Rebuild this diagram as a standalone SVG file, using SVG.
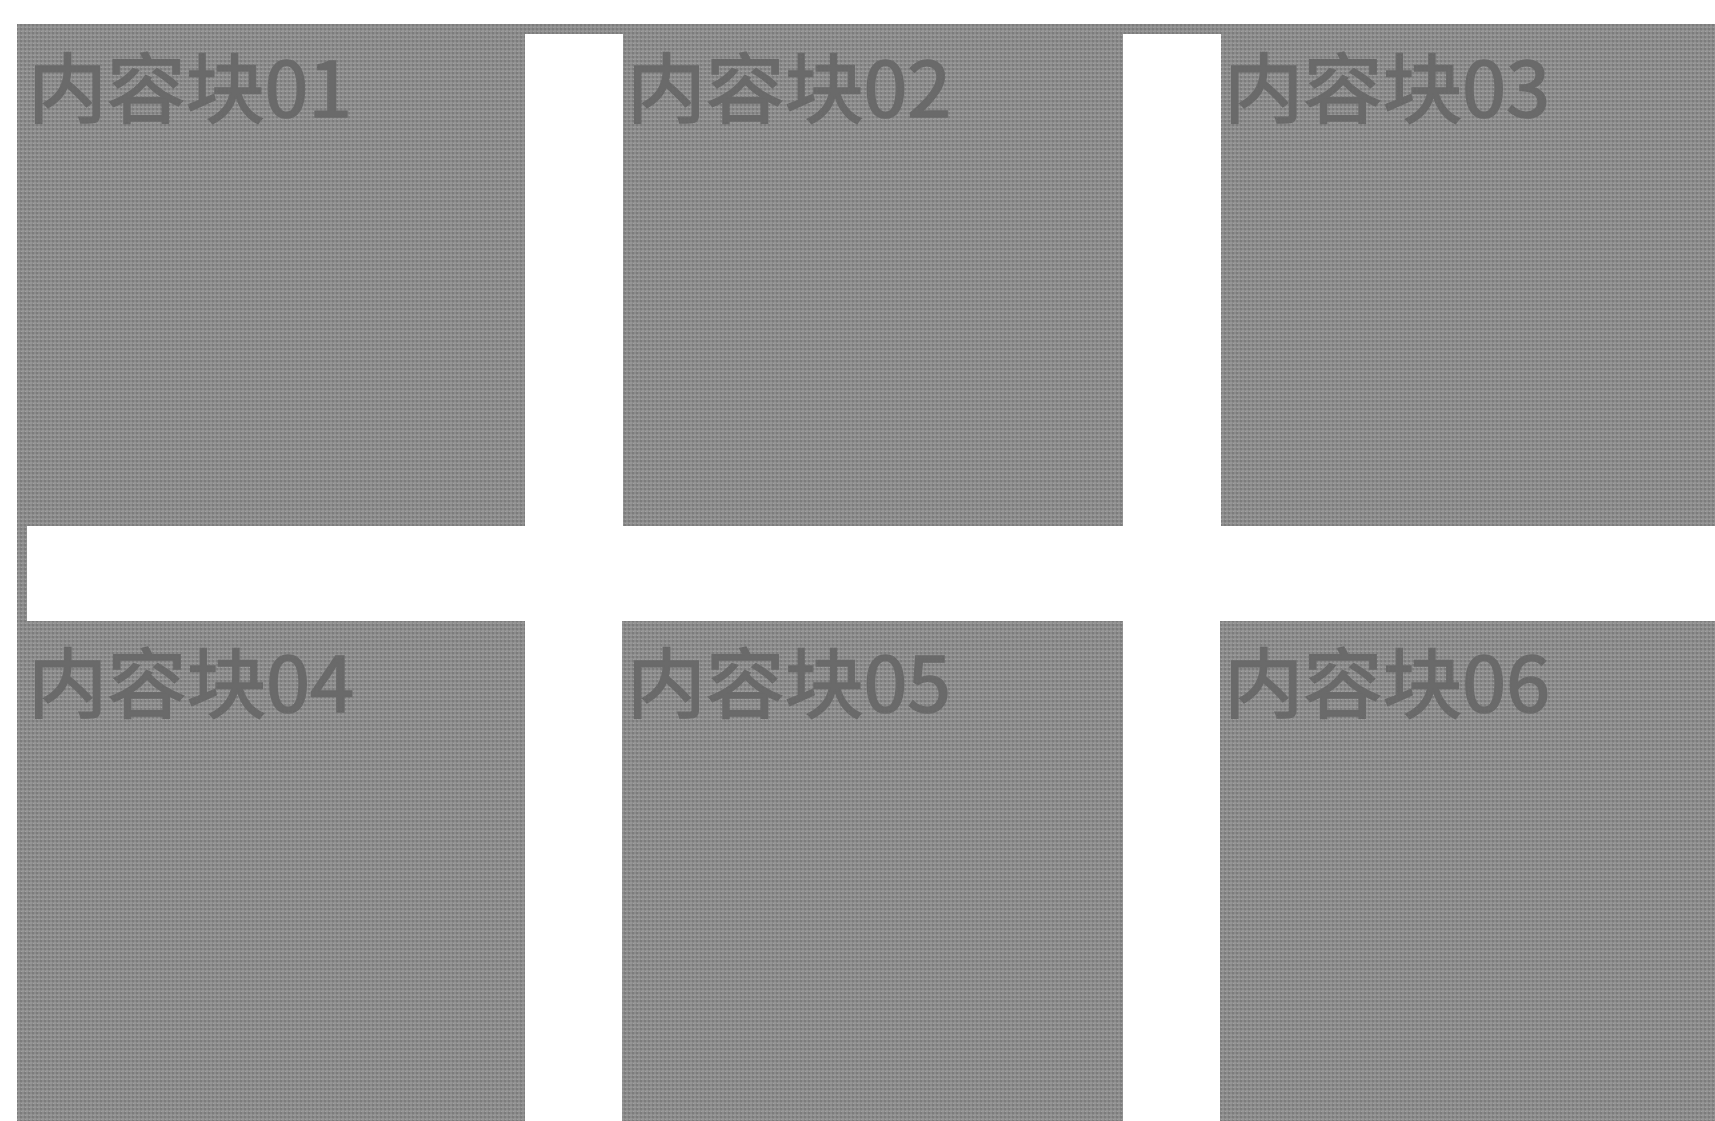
<svg xmlns="http://www.w3.org/2000/svg" width="1715" height="1121" viewBox="0 0 1715 1121">
  <defs>
    <pattern id="tex" width="4" height="4" patternUnits="userSpaceOnUse">
      <rect width="4" height="4" fill="#8b8b8b"/>
      <rect x="0" y="0" width="2" height="2" fill="#7c7c7c"/>
      <rect x="2" y="2" width="2" height="2" fill="#969696"/>
      <rect x="1" y="3" width="1" height="1" fill="#a0a0a0"/>
    </pattern>
  </defs>
  <style>
    .blk { fill: url(#tex); }
    .lbl { font-family: "Noto Sans CJK SC", "Noto Sans", sans-serif; font-size: 76px; fill: #6a6a6a; stroke: #6a6a6a; stroke-width: 1.6px; }
  </style>
  <rect width="1715" height="1121" fill="#ffffff"/>
  <g id="frame">
    <rect class="blk" x="17" y="24" width="1698" height="10"/>
    <rect class="blk" x="17" y="24" width="10" height="1097"/>
  </g>
  <g id="block01">
    <rect class="blk" x="17" y="24" width="508" height="502"/>
    <text class="lbl" x="28" y="117" textLength="324" lengthAdjust="spacingAndGlyphs">内容块01</text>
  </g>
  <g id="block02">
    <rect class="blk" x="623" y="24" width="500" height="502"/>
    <text class="lbl" x="627" y="117" textLength="324" lengthAdjust="spacingAndGlyphs">内容块02</text>
  </g>
  <g id="block03">
    <rect class="blk" x="1221" y="24" width="494" height="502"/>
    <text class="lbl" x="1224" y="117" textLength="326" lengthAdjust="spacingAndGlyphs">内容块03</text>
  </g>
  <g id="block04">
    <rect class="blk" x="17" y="621" width="508" height="500"/>
    <text class="lbl" x="28" y="712" textLength="326" lengthAdjust="spacingAndGlyphs">内容块04</text>
  </g>
  <g id="block05">
    <rect class="blk" x="622" y="621" width="501" height="500"/>
    <text class="lbl" x="627" y="712" textLength="324" lengthAdjust="spacingAndGlyphs">内容块05</text>
  </g>
  <g id="block06">
    <rect class="blk" x="1220" y="621" width="495" height="500"/>
    <text class="lbl" x="1224" y="712" textLength="326" lengthAdjust="spacingAndGlyphs">内容块06</text>
  </g>
  <g id="connectors"/>
</svg>
